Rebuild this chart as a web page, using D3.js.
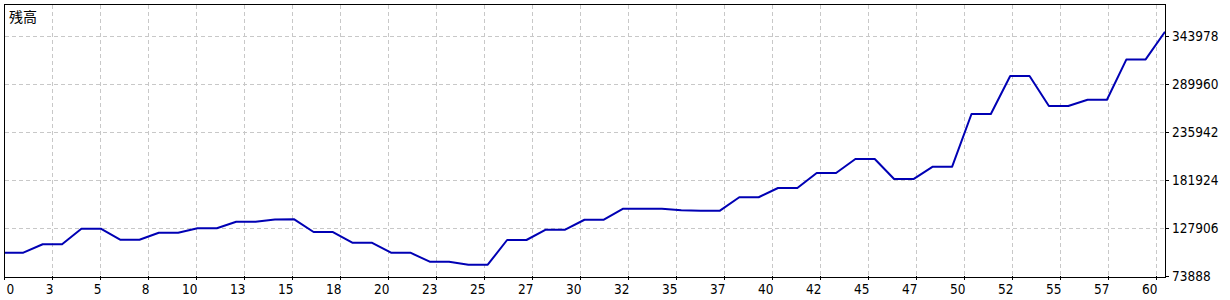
<!DOCTYPE html>
<html>
<head>
<meta charset="utf-8">
<script src="https://cdn.jsdelivr.net/npm/d3@7"></script>
<style>
  body { margin: 0; background: #fff; }
  svg text { font-family: "DejaVu Sans Condensed", "DejaVu Sans", sans-serif; font-stretch: condensed; font-size: 13.5px; fill: #000; }
</style>
</head>
<body>
<div id="chart"></div>
<script>
// balance after each step
const balance = [
  100100, 100100, 109600, 109600, 127100, 127100, 114700, 114700, 122600, 122600,
  127600, 127600, 135000, 135000, 137500, 137700, 123400, 123400, 111400, 111400,
  100100, 100100, 90000, 89800, 86600, 86600, 114400, 114400, 126000, 126000,
  137200, 137200, 149600, 149600, 149600, 147800, 147400, 147400, 162500, 162500,
  172900, 172900, 189800, 189800, 205600, 205600, 183000, 183000, 196900, 196900,
  256200, 256200, 299000, 299000, 265200, 265200, 272300, 272300, 317400, 317600,
  348800
];
const xLabels = ["0","3","5","8","10","13","15","18","20","23","25","27","30","32","35","37","40","42","45","47","50","52","55","57","60"];
const yTicks = [73888, 127906, 181924, 235942, 289960, 343978];
const title = "残高";

const W = 1230, H = 300;
const plot = {left: 4, right: 1165, top: 4, bottom: 276};

const svg = d3.select("#chart").append("svg")
    .attr("width", W)
    .attr("height", H);

const x = d3.scaleLinear()
    .domain([0, balance.length - 1])
    .range([plot.left, plot.right]);

// label slots are evenly spaced, 48px apart
const xTick = d3.scaleLinear()
    .domain([0, xLabels.length - 1])
    .range([plot.left, plot.left + 48 * (xLabels.length - 1)]);

const yStep = yTicks[1] - yTicks[0];
const y = d3.scaleLinear()
    .domain([yTicks[0], yTicks[0] + yStep * (plot.bottom - plot.top) / 48])
    .range([plot.bottom, plot.top]);

// grid
const grid = svg.append("g")
    .attr("stroke", "#c8c8c8")
    .attr("stroke-dasharray", "4,3")
    .attr("shape-rendering", "crispEdges");

grid.selectAll(".vg")
  .data(xLabels.slice(1))
  .join("line")
    .attr("class", "vg")
    .attr("x1", (d, i) => Math.round(xTick(i + 1)) + 0.5)
    .attr("x2", (d, i) => Math.round(xTick(i + 1)) + 0.5)
    .attr("y1", plot.top + 1)
    .attr("y2", plot.bottom);

grid.selectAll(".hg")
  .data(yTicks.slice(1))
  .join("line")
    .attr("class", "hg")
    .attr("x1", plot.left + 1)
    .attr("x2", plot.right)
    .attr("y1", d => Math.round(y(d)) + 0.5)
    .attr("y2", d => Math.round(y(d)) + 0.5);

// balance line
const line = d3.line()
    .x((d, i) => x(i))
    .y(d => y(d));

svg.append("path")
    .datum(balance)
    .attr("fill", "none")
    .attr("stroke", "#0000b4")
    .attr("stroke-width", 2)
    .attr("stroke-linejoin", "round")
    .attr("d", line);

// frame
svg.append("rect")
    .attr("x", plot.left + 0.5)
    .attr("y", plot.top + 0.5)
    .attr("width", plot.right - plot.left)
    .attr("height", plot.bottom - plot.top + 0.5)
    .attr("fill", "none")
    .attr("stroke", "#000")
    .attr("shape-rendering", "crispEdges");

// x axis ticks + labels
const xa = svg.append("g");
xa.selectAll("line")
  .data(xLabels)
  .join("line")
    .attr("x1", (d, i) => Math.round(xTick(i)) + 0.5)
    .attr("x2", (d, i) => Math.round(xTick(i)) + 0.5)
    .attr("y1", plot.bottom)
    .attr("y2", plot.bottom + 4)
    .attr("stroke", "#000")
    .attr("shape-rendering", "crispEdges");

xa.selectAll("text")
  .data(xLabels)
  .join("text")
    .attr("x", (d, i) => i === 0 ? xTick(i) + 2.5 : xTick(i) + 1.5)
    .attr("y", 294)
    .attr("text-anchor", (d, i) => i === 0 ? "start" : "end")
    .text(d => d);

// y axis ticks + labels (right side)
const ya = svg.append("g");
ya.selectAll("line")
  .data(yTicks)
  .join("line")
    .attr("x1", plot.right)
    .attr("x2", plot.right + 4)
    .attr("y1", d => Math.round(y(d)) + 0.5)
    .attr("y2", d => Math.round(y(d)) + 0.5)
    .attr("stroke", "#000")
    .attr("shape-rendering", "crispEdges");

ya.selectAll("text")
  .data(yTicks)
  .join("text")
    .attr("x", plot.right + 7)
    .attr("y", d => y(d))
    .attr("dy", "0.4em")
    .text(d => d);

svg.append("text")
    .attr("x", 9)
    .attr("y", 22)
    .style("font-family", "'Noto Sans CJK JP', sans-serif")
    .style("font-size", "14px")
    .text(title);
</script>
</body>
</html>
